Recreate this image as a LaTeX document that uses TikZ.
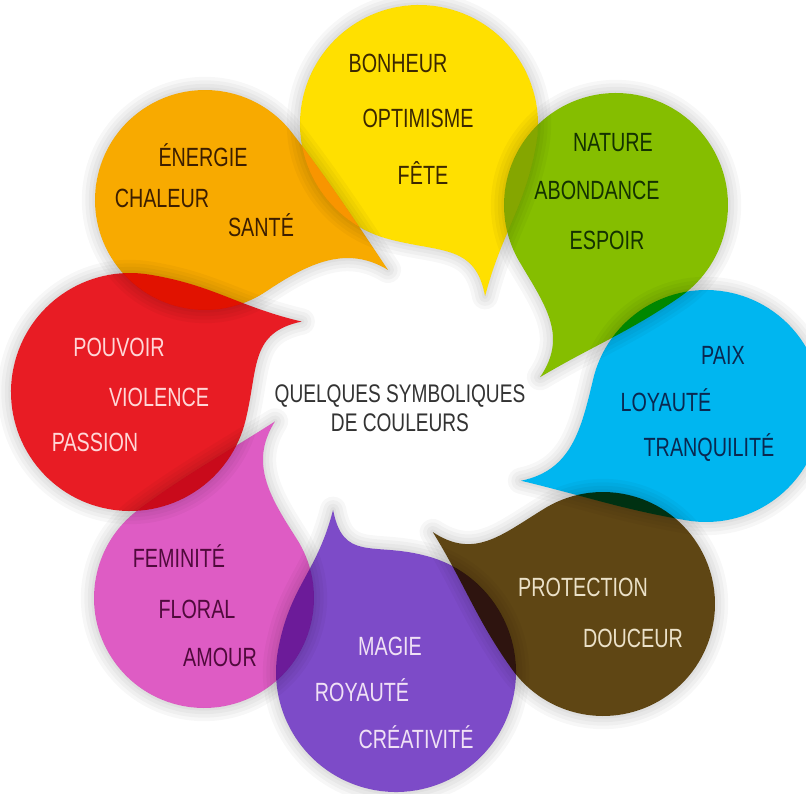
\documentclass[tikz,border=0pt]{standalone}
\usepackage{fontspec}
\setmainfont{Liberation Sans}[FakeStretch=0.75]

\definecolor{petalyellow}{HTML}{FFE000}
\definecolor{petalgreen}{HTML}{85BE00}
\definecolor{petalcyan}{HTML}{00B6F0}
\definecolor{petalbrown}{HTML}{5F4614}
\definecolor{petalpurple}{HTML}{7D4BC8}
\definecolor{petalpink}{HTML}{DE5CC4}
\definecolor{petalred}{HTML}{E81C24}
\definecolor{petalorange}{HTML}{F8AA00}
\definecolor{textyellow}{HTML}{3C2800}
\definecolor{textgreen}{HTML}{143200}
\definecolor{textcyan}{HTML}{0A2850}
\definecolor{textbrown}{HTML}{EBE1C8}
\definecolor{textpurple}{HTML}{F0E1F5}
\definecolor{textpink}{HTML}{500A3C}
\definecolor{textred}{HTML}{FFD7D7}
\definecolor{textorange}{HTML}{3C1E00}
\definecolor{titlegray}{HTML}{333333}

% outline of one bubble, centre at origin, radius 1, tail towards -66.5 deg
\newcommand{\petalpath}[1]{(259:1) arc[start angle=259, end angle=-8, radius=1]
  .. controls +(-98:0.55) and +(78:0.55) .. (-66.5:#1)
  .. controls +(103:0.44) and +(-12:0.44) .. (259:1) -- cycle}

% #1 centre, #2 radius, #3 rotation, #4 tail length, #5 colour
\newcommand{\petal}[5]{%
  \begin{scope}[shift={#1}, rotate=#3, scale=#2]
    \begin{scope}[even odd rule]
      \clip (-4,-4) rectangle (4,4) \petalpath{#4};
      \foreach \w in {3,7,11,15}
        \draw[petal shadow, line width=\w pt] \petalpath{#4};
    \end{scope}
    \fill[#5, blend mode=multiply] \petalpath{#4};
  \end{scope}}

\begin{document}
\begin{tikzpicture}[x=0.02cm, y=0.02cm,
    petal shadow/.style={black, opacity=0.03, line join=round},
    petaltext/.style={font=\fontsize{15}{17}\selectfont, inner sep=0pt, anchor=base},
    title/.style={font=\fontsize{14.5}{17}\selectfont, text=titlegray, inner sep=0pt, anchor=base}]

  % Background
  \fill[white] (0,0) rectangle (806,-794);
  \clip (0,0) rectangle (806,-794);

  % Draw bubbles
  \petal{(419,-124)}{119}{-2.5}{1.55}{petalyellow}
  \petal{(616,-205)}{112}{-47.3}{1.68}{petalgreen}
  \petal{(706,-406)}{116}{-91.5}{1.72}{petalcyan}
  \petal{(603,-604)}{112}{-136.4}{1.65}{petalbrown}
  \petal{(396,-672)}{120}{177.7}{1.45}{petalpurple}
  \petal{(204,-598)}{110}{134.6}{1.73}{petalpink}
  \petal{(130,-392)}{119}{88.8}{1.56}{petalred}
  \petal{(205,-200)}{110}{45.6}{1.78}{petalorange}

  % Draw yellow words
  \node[petaltext, text=textyellow] (bonheur) at (398,-73) {BONHEUR};
  \node[petaltext, text=textyellow] (optimisme) at (418,-128) {OPTIMISME};
  \node[petaltext, text=textyellow] (fete) at (423,-185) {FÊTE};

  % Draw green words
  \node[petaltext, text=textgreen] (nature) at (613,-152) {NATURE};
  \node[petaltext, text=textgreen] (abondance) at (597,-200) {ABONDANCE};
  \node[petaltext, text=textgreen] (espoir) at (607,-250) {ESPOIR};

  % Draw cyan words
  \node[petaltext, text=textcyan] (paix) at (723,-365) {PAIX};
  \node[petaltext, text=textcyan] (loyaute) at (666,-412) {LOYAUTÉ};
  \node[petaltext, text=textcyan] (tranquilite) at (709,-457) {TRANQUILITÉ};

  % Draw brown words
  \node[petaltext, text=textbrown] (protection) at (583,-597) {PROTECTION};
  \node[petaltext, text=textbrown] (douceur) at (633,-647) {DOUCEUR};

  % Draw purple words
  \node[petaltext, text=textpurple] (magie) at (390,-655) {MAGIE};
  \node[petaltext, text=textpurple] (royaute) at (362,-702) {ROYAUTÉ};
  \node[petaltext, text=textpurple] (creativite) at (416,-748) {CRÉATIVITÉ};

  % Draw pink words
  \node[petaltext, text=textpink] (feminite) at (179,-567) {FEMINITÉ};
  \node[petaltext, text=textpink] (floral) at (197,-619) {FLORAL};
  \node[petaltext, text=textpink] (amour) at (220,-666) {AMOUR};

  % Draw red words
  \node[petaltext, text=textred] (pouvoir) at (119,-357) {POUVOIR};
  \node[petaltext, text=textred] (violence) at (159,-407) {VIOLENCE};
  \node[petaltext, text=textred] (passion) at (95,-452) {PASSION};

  % Draw orange words
  \node[petaltext, text=textorange] (energie) at (203,-167) {ÉNERGIE};
  \node[petaltext, text=textorange] (chaleur) at (162,-208) {CHALEUR};
  \node[petaltext, text=textorange] (sante) at (261,-237) {SANTÉ};

  % Draw title
  \node[title] (title1) at (400,-402) {QUELQUES SYMBOLIQUES};
  \node[title] (title2) at (400,-432) {DE COULEURS};

\end{tikzpicture}
\end{document}
